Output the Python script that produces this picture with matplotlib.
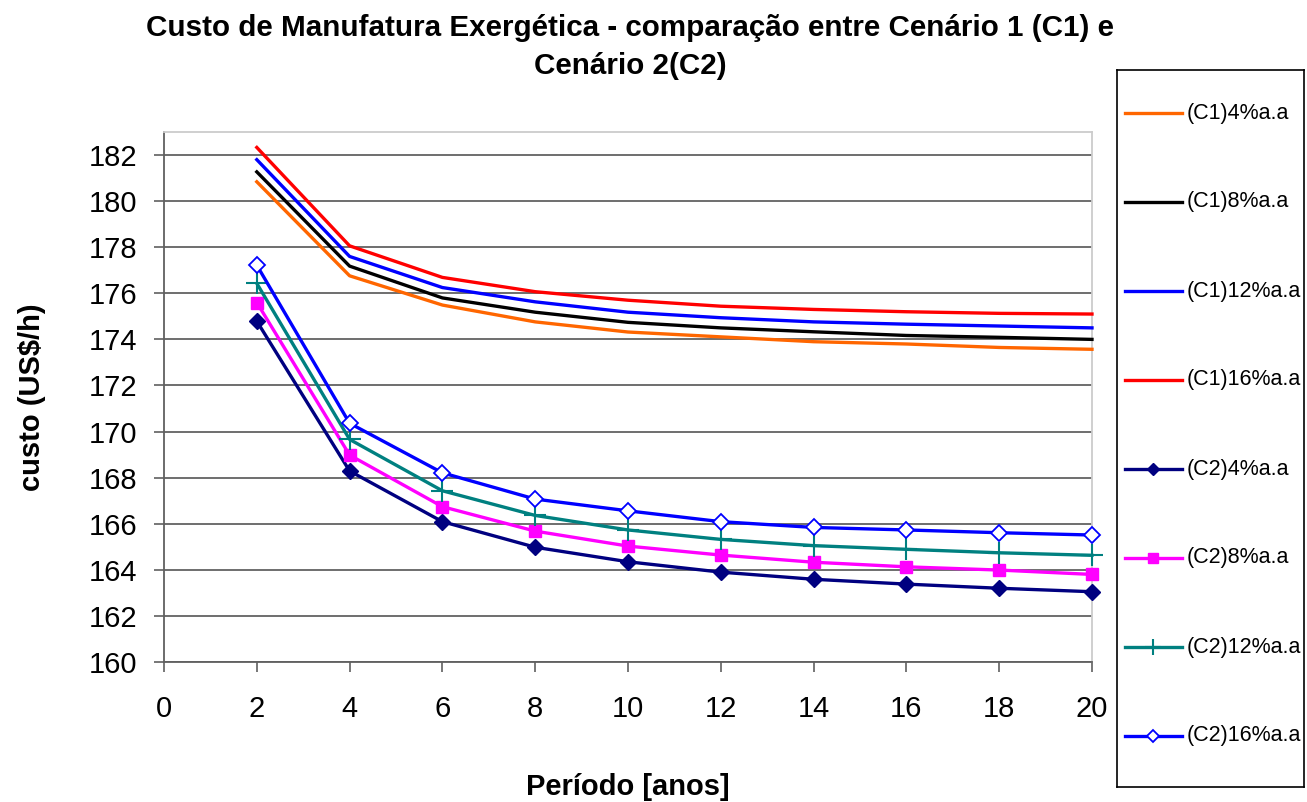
import matplotlib.pyplot as plt
from matplotlib.lines import Line2D

# ─── Data ─────────────────────────────────────────────────────────────────────

periodo = [2, 4, 6, 8, 10, 12, 14, 16, 18, 20]

c1_4  = [180.84, 176.76, 175.49, 174.76, 174.32, 174.11, 173.90, 173.80, 173.65, 173.57]
c1_8  = [181.27, 177.18, 175.80, 175.18, 174.74, 174.50, 174.33, 174.17, 174.09, 174.00]
c1_12 = [181.80, 177.60, 176.25, 175.63, 175.18, 174.94, 174.76, 174.66, 174.58, 174.50]
c1_16 = [182.33, 178.06, 176.69, 176.07, 175.70, 175.44, 175.30, 175.20, 175.13, 175.10]

c2_4  = [174.79, 168.29, 166.09, 164.98, 164.35, 163.90, 163.59, 163.38, 163.20, 163.05]
c2_8  = [175.60, 168.98, 166.74, 165.68, 165.03, 164.64, 164.33, 164.13, 163.99, 163.80]
c2_12 = [176.43, 169.66, 167.43, 166.36, 165.73, 165.32, 165.05, 164.89, 164.74, 164.63]
c2_16 = [177.22, 170.36, 168.21, 167.07, 166.56, 166.09, 165.84, 165.73, 165.61, 165.51]

labels = ["(C1)4%a.a", "(C1)8%a.a", "(C1)12%a.a", "(C1)16%a.a",
          "(C2)4%a.a", "(C2)8%a.a", "(C2)12%a.a", "(C2)16%a.a"]

ORANGE  = "#FF6600"
NAVY    = "#000080"
MAGENTA = "#FF00FF"
TEAL    = "#008080"
BLUE    = "#0000FF"
RED     = "#FF0000"

plt.rcParams["font.family"] = ["Liberation Sans", "DejaVu Sans"]

W, H = 1307, 802
fig = plt.figure(figsize=(W / 100, H / 100), dpi=100)
ax = fig.add_axes([164 / W, 1 - 662 / H, (1092 - 164) / W, (662 - 132) / H])

lw = 2.4
series = [
    (c1_4,  dict(color=ORANGE)),
    (c1_8,  dict(color="black")),
    (c1_12, dict(color=BLUE)),
    (c1_16, dict(color=RED)),
    (c2_4,  dict(color=NAVY, marker="D", markersize=8.5)),
    (c2_8,  dict(color=MAGENTA, marker="s", markersize=9)),
    (c2_12, dict(color=TEAL, marker="+", markersize=16, markeredgewidth=1.5)),
    (c2_16, dict(color=BLUE, marker="D", markersize=8, markerfacecolor="white",
                 markeredgewidth=1.3)),
]

for vals, style in series:
    ax.plot(periodo, vals, linewidth=lw, clip_on=False, zorder=3, **style)

ax.set_xlim(0, 20)
ax.set_ylim(160, 183)
ax.set_xticks(range(0, 21, 2))
ax.set_yticks(range(160, 183, 2))
ax.tick_params(axis="both", labelsize=21, direction="out", length=7,
               color="#606060", width=1.2)
ax.tick_params(axis="y", pad=12)
ax.tick_params(axis="x", pad=17)

ax.grid(axis="y", color="#555555", linewidth=1.2)
ax.set_axisbelow(True)
for side in ["left", "bottom"]:
    ax.spines[side].set_color("#606060")
    ax.spines[side].set_linewidth(1.3)
for side in ["top", "right"]:
    ax.spines[side].set_color("#CCCCCC")
    ax.spines[side].set_linewidth(1.3)

ax.set_xlabel("Período [anos]", fontsize=21, fontweight="bold", labelpad=36)
ax.set_ylabel("custo (US$/h)", fontsize=21, fontweight="bold", labelpad=31)

fig.text(630 / W, 1 - 28 / H,
         "Custo de Manufatura Exergética - comparação entre Cenário 1 (C1) e",
         ha="center", va="center", fontsize=21.3, fontweight="bold")
fig.text(630 / W, 1 - 66 / H, "Cenário 2(C2)",
         ha="center", va="center", fontsize=21.3, fontweight="bold")

# Legend drawn by hand so the entries spread over the tall box
bx0, bx1, by0, by1 = 1117, 1304, 70, 787
leg_ax = fig.add_axes([bx0 / W, 1 - by1 / H, (bx1 - bx0) / W, (by1 - by0) / H])
leg_ax.set_xlim(bx0, bx1)
leg_ax.set_ylim(by1, by0)
leg_ax.set_xticks([])
leg_ax.set_yticks([])
for s in leg_ax.spines.values():
    s.set_color("black")
    s.set_linewidth(1.2)

for i, ((vals, style), lab) in enumerate(zip(series, labels)):
    y = 113 + i * 89
    st = dict(style)
    if "markersize" in st:
        st["markersize"] = st["markersize"] * 0.75
    line_st = {k: v for k, v in st.items()
               if k not in ("marker", "markersize", "markerfacecolor", "markeredgewidth")}
    leg_ax.add_line(Line2D([1125, 1182], [y, y], linewidth=lw, **line_st))
    if "marker" in st:
        leg_ax.plot([1153.5], [y], linestyle="none", **st)
    leg_ax.text(1187, y, lab, fontsize=15.5, va="center", ha="left")

fig.savefig("out.png", dpi=100)
